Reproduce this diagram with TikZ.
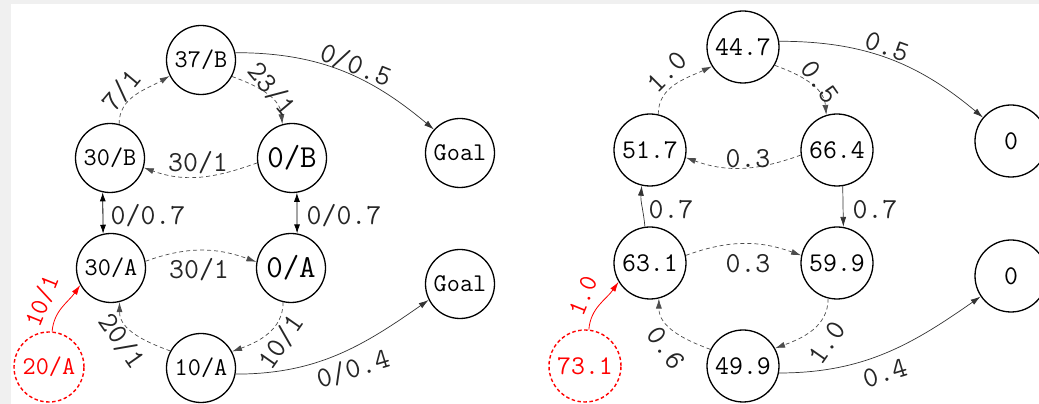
\documentclass[tikz,border=0pt]{standalone}
\usepackage{fontspec}
\usetikzlibrary{arrows.meta}
\begin{document}
\begin{tikzpicture}[x=1pt,y=1pt,
  st/.style={circle,draw=black,line width=1.3pt,inner sep=0pt,minimum size=69pt,font=\ttfamily\fontsize{25.5}{27}\selectfont},
  stbig/.style={st,font=\ttfamily\fontsize{32}{34}\selectfont},
  rst/.style={st,minimum size=72pt,font=\ttfamily\fontsize{27}{29}\selectfont},
  init/.style={circle,draw=red,text=red,line width=1.4pt,dash pattern=on 3.5pt off 2.5pt,inner sep=0pt,minimum size=70pt,font=\ttfamily\fontsize{25.5}{27}\selectfont},
  rinit/.style={init,minimum size=72pt,font=\ttfamily\fontsize{27}{29}\selectfont},
  lbl/.style={inner sep=0pt,font=\ttfamily\fontsize{29}{31}\selectfont,text=black!85},
  rlbl/.style={lbl,text=red,font=\ttfamily\fontsize{26}{28}\selectfont},
  tip/.style={-{Latex[length=10pt,width=6pt]}},
  dedge/.style={tip,draw=black!70,line width=0.7pt,dash pattern=on 4pt off 3pt},
  sedge/.style={tip,draw=black!80,line width=0.7pt},
  bedge/.style={{Latex[length=9pt,width=6pt]}-{Latex[length=9pt,width=6pt]},draw=black,line width=0.8pt},
  redge/.style={tip,draw=red,line width=0.8pt}]
\useasboundingbox (0,0) rectangle (1039,404);
\fill[black!6] (0,0) rectangle (11,404);
\fill[black!6] (0,400) rectangle (1039,404);
% left graph
\node[st] (n37B) at (201,344) {37/B};
\node[st] (n30B) at (110,246) {30/B};
\node[stbig] (n0B) at (292,246) {0/B};
\node[st] (gT) at (460,251) {Goal};
\node[st] (n30A) at (111,136) {30/A};
\node[stbig] (n0A) at (291,136) {0/A};
\node[st] (gB) at (460,120) {Goal};
\node[st] (n10A) at (201,36) {10/A};
\node[init] (n20A) at (49,37) {20/A};
\draw[dedge] (n30B.75) to[out=90,in=210] (n37B.207);
\draw[dedge] (n37B.-28) to[out=-20,in=95] (n0B.106);
\draw[dedge] (n0B.188) to[out=200,in=-20] (n30B.-16);
\draw[sedge] (n37B.12) to[out=0,in=140] (gT.138);
\draw[bedge] (n30B.258) -- (n30A.103);
\draw[bedge] (n0B.278) -- (n0A.80);
\draw[dedge] (n30A.11) to[out=20,in=160] (n0A.170);
\draw[dedge] (n0A.257) to[out=270,in=20] (n10A.28);
\draw[dedge] (n10A.151) to[out=160,in=270] (n30A.284);
\draw[sedge] (n10A.-10) to[out=0,in=215] (gB.207);
\draw[redge] (n20A.85) to[out=85,in=235] (n30A.209);
\node[lbl,rotate=50] (l1) at (122,313) {7/1};
\node[lbl,rotate=-50] (l2) at (272,315) {23/1};
\node[lbl] (l3) at (198,241) {30/1};
\node[lbl,rotate=-22] (l4) at (356,339) {0/0.5};
\node[lbl] (l5) at (148,188) {0/0.7};
\node[lbl] (l6) at (344,188) {0/0.7};
\node[lbl] (l7) at (199,134) {30/1};
\node[lbl,rotate=55] (l8) at (281,62) {10/1};
\node[lbl,rotate=-55] (l9) at (122,63) {20/1};
\node[lbl,rotate=17] (l10) at (353,35) {0/0.4};
\node[rlbl,rotate=68] (l11) at (42,103) {10/1};
% right graph
\node[rst] (r447) at (743,357) {44.7};
\node[rst] (r517) at (650,254) {51.7};
\node[rst] (r664) at (837,254) {66.4};
\node[rst] (r0T) at (1011,263) {0};
\node[rst] (r631) at (650,141) {63.1};
\node[rst] (r599) at (837,141) {59.9};
\node[rst] (r0B) at (1011,128) {0};
\node[rst] (r499) at (743,38) {49.9};
\node[rinit] (r731) at (585,38) {73.1};
\draw[dedge] (r517.77) to[out=90,in=205] (r447.212);
\draw[dedge] (r447.-30) to[out=-20,in=95] (r664.107);
\draw[dedge] (r664.188) to[out=200,in=-20] (r517.-12);
\draw[sedge] (r447.9) to[out=0,in=140] (r0T.140);
\draw[sedge] (r631.98) to[out=95,in=265] (r517.257);
\draw[sedge] (r664.279) -- (r599.80);
\draw[dedge] (r631.12) to[out=20,in=160] (r599.168);
\draw[dedge] (r599.256) to[out=270,in=20] (r499.29);
\draw[dedge] (r499.153) to[out=160,in=270] (r631.284);
\draw[sedge] (r499.-11) to[out=0,in=215] (r0B.214);
\draw[redge] (r731.84) to[out=85,in=235] (r631.211);
\node[lbl,rotate=45] (m1) at (667,332) {1.0};
\node[lbl,rotate=-55] (m2) at (820,322) {0.5};
\node[lbl] (m3) at (748,245) {0.3};
\node[lbl,rotate=-20] (m4) at (887,357) {0.5};
\node[lbl] (m5) at (671,194) {0.7};
\node[lbl] (m6) at (875,194) {0.7};
\node[lbl] (m7) at (748,140) {0.3};
\node[lbl,rotate=55] (m8) at (827,61) {1.0};
\node[lbl,rotate=-55] (m9) at (666,56) {0.6};
\node[lbl,rotate=17] (m10) at (885,31) {0.4};
\node[rlbl,rotate=68] (m11) at (583,108) {1.0};
\end{tikzpicture}
\end{document}
